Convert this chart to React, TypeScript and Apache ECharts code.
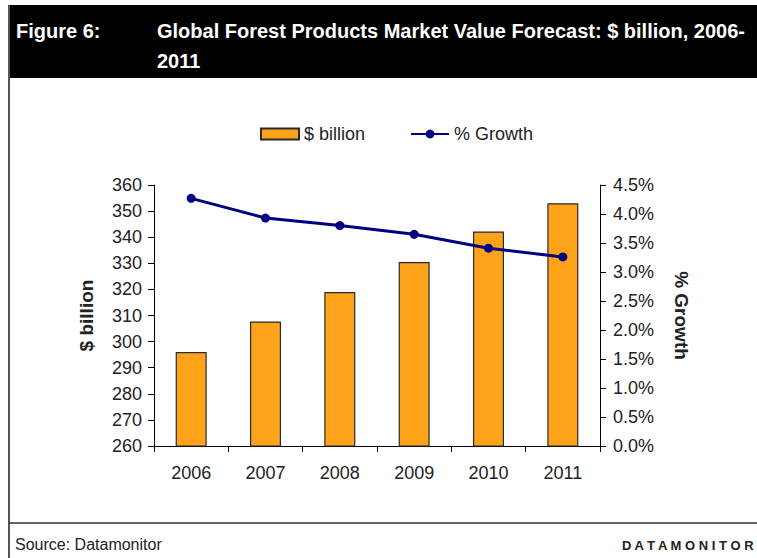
import React, { useEffect, useRef } from "react";
import * as echarts from "echarts";

const years = ["2006", "2007", "2008", "2009", "2010", "2011"];
const billions = [296, 307.7, 319, 330.5, 342.2, 353];
const growth = [4.27, 3.93, 3.8, 3.65, 3.41, 3.26];
const titleLine1 = "Global Forest Products Market Value Forecast: $ billion, 2006-";
const titleLine2 = "2011";
const figureLabel = "Figure 6:";
const sourceText = "Source: Datamonitor";
const brandText = "D A T A M O N I T O R";

const FONT = "'Liberation Sans', Arial, sans-serif";

export default function App() {
  const ref = useRef<HTMLDivElement>(null);
  useEffect(() => {
    if (!ref.current) return;
    const chart = echarts.init(ref.current, null, { renderer: "svg" });
    chart.setOption({
      animation: false,
      backgroundColor: "#ffffff",
      textStyle: { fontFamily: FONT },
      graphic: [
        { type: "rect", shape: { x: 9, y: 5, width: 748, height: 73 }, style: { fill: "#000000" } },
        { type: "line", shape: { x1: 9, y1: 5, x2: 9, y2: 558 }, style: { stroke: "#555555", lineWidth: 2 } },
        { type: "line", shape: { x1: 9, y1: 523, x2: 757, y2: 523 }, style: { stroke: "#333333", lineWidth: 1.5 } },
        {
          type: "text", x: 16, y: 31,
          style: { text: figureLabel, fill: "#ffffff", font: `bold 20px ${FONT}`, verticalAlign: "middle" },
        },
        {
          type: "text", x: 157, y: 31,
          style: { text: titleLine1, fill: "#ffffff", font: `bold 20px ${FONT}`, verticalAlign: "middle" },
        },
        {
          type: "text", x: 157, y: 61,
          style: { text: titleLine2, fill: "#ffffff", font: `bold 20px ${FONT}`, verticalAlign: "middle" },
        },
        {
          type: "text", x: 15, y: 544,
          style: { text: sourceText, fill: "#222222", font: `16px ${FONT}`, verticalAlign: "middle" },
        },
        {
          type: "text", x: 622, y: 545,
          style: { text: brandText, fill: "#222222", font: `bold 13px ${FONT}`, verticalAlign: "middle" },
        },
      ],
      legend: {
        left: 255,
        top: 120,
        itemWidth: 38,
        itemHeight: 11,
        itemGap: 45,
        textStyle: { fontSize: 18, color: "#222222", fontFamily: FONT },
        data: [
          { name: "$ billion", icon: "rect" },
          { name: "% Growth" },
        ],
      },
      grid: { left: 154, right: 157, top: 185, bottom: 112 },
      xAxis: {
        type: "category",
        data: years,
        axisLine: { lineStyle: { color: "#000000", width: 1 } },
        axisTick: { show: true, length: 6, lineStyle: { color: "#000000" } },
        axisLabel: { fontSize: 18, color: "#222222", margin: 18, fontFamily: FONT },
      },
      yAxis: [
        {
          type: "value",
          min: 260,
          max: 360,
          interval: 10,
          name: "$ billion",
          nameLocation: "middle",
          nameGap: 58,
          nameTextStyle: { fontSize: 19, fontWeight: "bold", color: "#222222", fontFamily: FONT },
          axisLine: { show: true, lineStyle: { color: "#000000", width: 1 } },
          axisTick: { show: true, length: 6, lineStyle: { color: "#000000" } },
          axisLabel: { fontSize: 18, color: "#222222", margin: 12, fontFamily: FONT },
          splitLine: { show: false },
        },
        {
          type: "value",
          min: 0,
          max: 4.5,
          interval: 0.5,
          position: "right",
          name: "% Growth",
          nameLocation: "middle",
          nameRotate: -90,
          nameGap: 72,
          nameTextStyle: { fontSize: 19, fontWeight: "bold", color: "#222222", fontFamily: FONT },
          axisLine: { show: true, lineStyle: { color: "#000000", width: 1 } },
          axisTick: { show: true, length: 6, lineStyle: { color: "#000000" } },
          axisLabel: {
            fontSize: 18, color: "#222222", margin: 13, fontFamily: FONT,
            formatter: (v: number) => v.toFixed(1) + "%",
          },
          splitLine: { show: false },
        },
      ],
      series: [
        {
          name: "$ billion",
          type: "bar",
          data: billions,
          barWidth: 31,
          itemStyle: { color: "#FFA31A", borderColor: "#2a2a2a", borderWidth: 1.2 },
        },
        {
          name: "% Growth",
          type: "line",
          yAxisIndex: 1,
          data: growth,
          symbol: "circle",
          symbolSize: 9,
          lineStyle: { color: "#000080", width: 3 },
          itemStyle: { color: "#000080" },
        },
      ],
    });
    return () => chart.dispose();
  }, []);
  return (
    <div
      ref={ref}
      style={{ position: "absolute", left: 0, top: 0, width: 757, height: 558 }}
    />
  );
}
